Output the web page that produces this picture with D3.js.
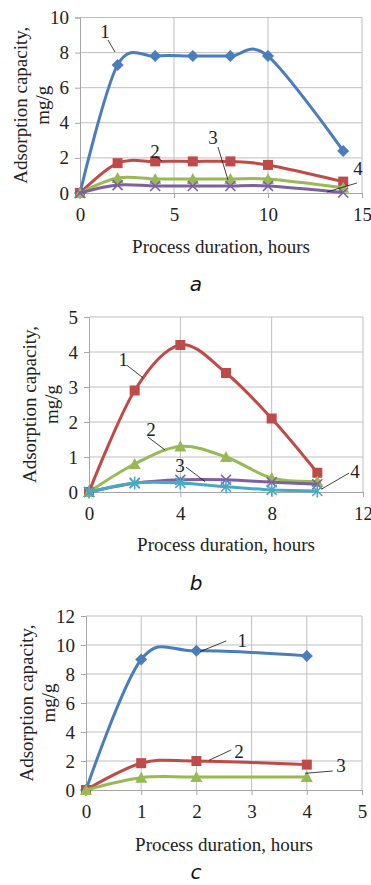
<!DOCTYPE html>
<html>
<head>
<meta charset="utf-8">
<script src="https://cdn.jsdelivr.net/npm/d3@7"></script>
<style>
  body { margin: 0; background: #fff; }
  svg { display: block; }
</style>
</head>
<body>
<svg id="chart" width="371" height="885"></svg>
<script>
// ---- data ----
// panel a
const hoursA = [0, 2, 4, 6, 8, 10, 14];
const capA1 = [0, 7.3, 7.8, 7.8, 7.8, 7.8, 2.4];
const capA2 = [0, 1.7, 1.8, 1.8, 1.8, 1.6, 0.65];
const capA3 = [0, 0.85, 0.8, 0.8, 0.8, 0.8, 0.3];
const capA4 = [0, 0.45, 0.4, 0.4, 0.4, 0.4, 0.03];
const xTicksA = [0, 5, 10, 15];
const yTicksA = [0, 2, 4, 6, 8, 10];

// panel b
const hoursB = [0, 2, 4, 6, 8, 10];
const capB1 = [0, 2.9, 4.2, 3.4, 2.1, 0.55];
const capB2 = [0, 0.8, 1.3, 1.0, 0.4, 0.3];
const capB3 = [0, 0.25, 0.35, 0.35, 0.28, 0.22];
const capB4 = [0, 0.26, 0.26, 0.15, 0.06, 0.03];
const xTicksB = [0, 4, 8, 12];
const yTicksB = [0, 1, 2, 3, 4, 5];

// panel c
const hoursC = [0, 1, 2, 4];
const capC1 = [0, 9.0, 9.6, 9.25];
const capC2 = [0, 1.85, 2.0, 1.75];
const capC3 = [0, 0.85, 0.9, 0.9];
const xTicksC = [0, 1, 2, 3, 4, 5];
const yTicksC = [0, 2, 4, 6, 8, 10, 12];

const curveNames = ["1", "2", "3", "4"];
const yTitle = ["Adsorption capacity,", "mg/g"];
const xTitle = "Process duration, hours";

// ---- styling ----
const blue = { color: "#4a7ebb", marker: "diamond" };
const red = { color: "#be4b48", marker: "square" };
const green = { color: "#98b954", marker: "triangle" };
const purple = { color: "#7d60a0", marker: "cross" };
const cyan = { color: "#46aac5", marker: "star" };

const serif = "'Liberation Serif', 'Times New Roman', serif";
const svg = d3.select("#chart");

// callouts: text position and leader line, in data units
const panels = [
  {
    hours: hoursA, series: [capA1, capA2, capA3, capA4], styles: [blue, red, green, purple],
    xTicks: xTicksA, yTicks: yTicksA, left: 80, right: 362, top: 17.5, bottom: 193,
    letter: "a", letterY: 291, titleY: 253,
    callouts: [
      { t: [1.33, 9.23], l: [1.49, 8.72, 1.86, 8.03] },
      { t: [3.99, 2.4], l: [4.04, 2.1, 4.36, 1.82] },
      { t: [7.07, 3.19], l: [7.34, 2.62, 7.87, 0.75] },
      { t: [14.79, 1.42], l: [14.73, 0.57, 13.14, 0.06] }
    ]
  },
  {
    hours: hoursB, series: [capB1, capB2, capB3, capB4], styles: [red, green, purple, cyan],
    xTicks: xTicksB, yTicks: yTicksB, left: 89, right: 363, top: 317, bottom: 492,
    letter: "b", letterY: 590, titleY: 551,
    callouts: [
      { t: [1.5, 3.8], l: [1.66, 3.62, 2.37, 3.26] },
      { t: [2.72, 1.8], l: [2.58, 1.57, 3.33, 1.2] },
      { t: [3.99, 0.77], l: [4.25, 0.71, 5.08, 0.3] },
      { t: [11.65, 0.6], l: [11.39, 0.54, 10.2, 0.09] }
    ]
  },
  {
    hours: hoursC, series: [capC1, capC2, capC3], styles: [blue, red, green],
    xTicks: xTicksC, yTicks: yTicksC, left: 86, right: 362, top: 616, bottom: 790,
    letter: "c", letterY: 879, titleY: 851,
    callouts: [
      { t: [2.83, 10.34], l: [2.54, 10.28, 2.07, 9.55] },
      { t: [2.77, 2.69], l: [2.63, 2.76, 2.23, 2.05] },
      { t: [4.62, 1.72], l: [4.47, 1.31, 3.97, 1.15] }
    ]
  }
];

function drawMarker(g, kind, color, px, py) {
  const m = g.append("g").attr("transform", `translate(${px},${py})`);
  if (kind === "diamond") {
    m.append("path").attr("d", "M0,-6L6,0L0,6L-6,0Z").attr("fill", color);
  } else if (kind === "square") {
    m.append("rect").attr("x", -5).attr("y", -5).attr("width", 10).attr("height", 10).attr("fill", color);
  } else if (kind === "triangle") {
    m.append("path").attr("d", "M0,-6L6,5L-6,5Z").attr("fill", color);
  } else if (kind === "cross") {
    m.append("path").attr("d", "M-5,-5L5,5M-5,5L5,-5")
      .attr("stroke", color).attr("stroke-width", 1.6).attr("fill", "none");
  } else {
    m.append("path").attr("d", "M-5,-5L5,5M-5,5L5,-5M0,-6.5L0,6.5")
      .attr("stroke", color).attr("stroke-width", 1.6).attr("fill", "none");
  }
}

panels.forEach(p => {
  const x = d3.scaleLinear().domain([p.xTicks[0], d3.max(p.xTicks)]).range([p.left, p.right]);
  const y = d3.scaleLinear().domain([0, d3.max(p.yTicks)]).range([p.bottom, p.top]);
  const g = svg.append("g");

  // gridlines
  g.append("g").selectAll("line").data(p.yTicks.slice(1)).join("line")
    .attr("x1", p.left).attr("x2", p.right)
    .attr("y1", d => y(d)).attr("y2", d => y(d))
    .attr("stroke", "#bfbfbf").attr("stroke-width", 1);
  g.append("g").selectAll("line").data(p.xTicks.slice(1)).join("line")
    .attr("x1", d => x(d)).attr("x2", d => x(d))
    .attr("y1", p.top).attr("y2", p.bottom)
    .attr("stroke", "#bfbfbf").attr("stroke-width", 1);

  // axes
  const ax = g.append("g").attr("transform", `translate(0,${p.bottom})`)
    .call(d3.axisBottom(x).tickValues(p.xTicks).tickSize(5).tickPadding(10).tickFormat(d3.format("d")));
  const ay = g.append("g").attr("transform", `translate(${p.left},0)`)
    .call(d3.axisLeft(y).tickValues(p.yTicks).tickSize(5).tickPadding(6).tickFormat(d3.format("d")));
  [ax, ay].forEach(a => {
    a.attr("font-family", serif).attr("font-size", 19);
    a.select(".domain").attr("stroke", "#a6a6a6");
    a.selectAll(".tick line").attr("stroke", "#a6a6a6");
    a.selectAll(".tick text").attr("fill", "#222");
  });

  // titles
  const midY = (p.top + p.bottom) / 2;
  const yt = g.append("text").attr("transform", `translate(${p.left - 53},${midY}) rotate(-90)`)
    .attr("text-anchor", "middle").attr("fill", "#222")
    .style("font-family", serif).style("font-size", "19px");
  yt.append("tspan").attr("x", 0).attr("y", 0).text(yTitle[0]);
  yt.append("tspan").attr("x", 0).attr("y", 22).text(yTitle[1]);

  g.append("text").attr("x", (p.left + p.right) / 2).attr("y", p.titleY)
    .attr("text-anchor", "middle").attr("fill", "#222")
    .style("font-family", serif).style("font-size", "19px").text(xTitle);

  g.append("text").attr("x", 196).attr("y", p.letterY)
    .attr("text-anchor", "middle").attr("fill", "#111")
    .style("font-family", "'DejaVu Sans', sans-serif").style("font-style", "italic")
    .style("font-size", "20px").text(p.letter);

  // series
  const line = d3.line().curve(d3.curveCardinal.tension(0))
    .x(d => x(d[0])).y(d => y(d[1]));
  p.series.forEach((vals, si) => {
    const st = p.styles[si];
    const pts = p.hours.map((h, i) => [h, vals[i]]);
    g.append("path").datum(pts).attr("d", line)
      .attr("fill", "none").attr("stroke", st.color).attr("stroke-width", 3)
      .attr("stroke-linejoin", "round");
    const mg = g.append("g");
    pts.forEach(pt => drawMarker(mg, st.marker, st.color, x(pt[0]), y(pt[1])));
  });

  // curve numbers with leader lines
  p.callouts.forEach((c, i) => {
    g.append("line")
      .attr("x1", x(c.l[0])).attr("y1", y(c.l[1]))
      .attr("x2", x(c.l[2])).attr("y2", y(c.l[3]))
      .attr("stroke", "#111").attr("stroke-width", 0.8);
    g.append("text").attr("x", x(c.t[0])).attr("y", y(c.t[1])).attr("dy", "0.35em")
      .attr("text-anchor", "middle").attr("fill", "#222")
      .style("font-family", serif).style("font-size", "19px").text(curveNames[i]);
  });
});
</script>
</body>
</html>
